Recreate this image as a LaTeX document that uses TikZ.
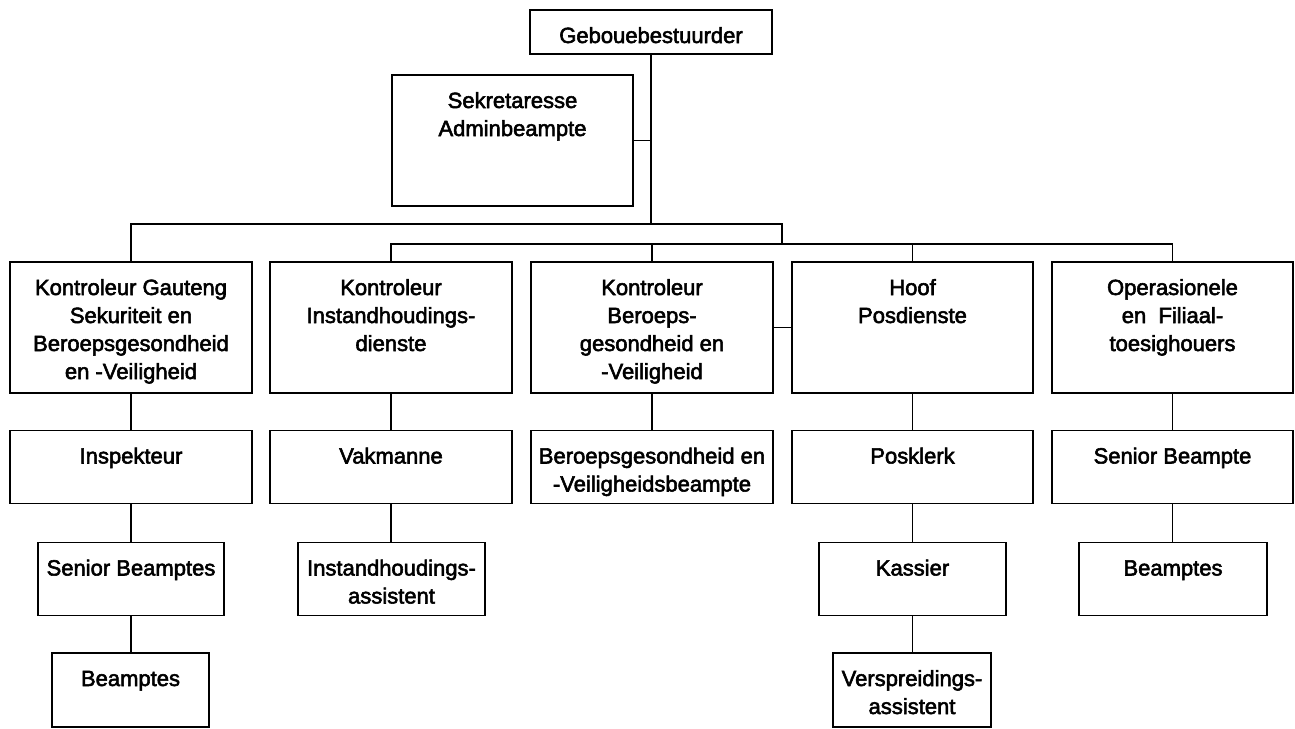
\documentclass[tikz,border=0pt]{standalone}
\usepackage{fontspec}
\setmainfont{Liberation Sans}[FakeBold=2.5]
% box content: fixed size, text set from the top, centred
\newcommand{\orgbox}[3]{\parbox[c][#2pt][t]{#1pt}{\centering\fontsize{22}{28}\selectfont\vspace*{13.4pt}\strut#3}}
\tikzset{
  orgnode/.style={draw, line width=1.8pt, inner sep=0pt, rectangle},
  conn/.style={line width=1.8pt}
}
\begin{document}
\begin{tikzpicture}[x=1pt, y=-1pt]
\useasboundingbox (0,0) rectangle (1295,728);

% top
\node[orgnode] (geb) at (651,32) {\orgbox{242}{44}{Gebouebestuurder}};
\node[orgnode] (sek) at (512.5,140.5) {\orgbox{241}{131}{Sekretaresse\\Adminbeampte}};

% second level
\node[orgnode] (k1) at (131,327.5) {\orgbox{242}{131}{Kontroleur Gauteng\\Sekuriteit en\\Beroepsgesondheid\\en -Veiligheid}};
\node[orgnode] (k2) at (391,327.5) {\orgbox{242}{131}{Kontroleur\\Instandhoudings-\\dienste}};
\node[orgnode] (k3) at (652,327.5) {\orgbox{242}{131}{Kontroleur\\Beroeps-\\gesondheid en\\-Veiligheid}};
\node[orgnode] (k4) at (912.5,327.5) {\orgbox{241}{131}{Hoof\\Posdienste}};
\node[orgnode] (k5) at (1172.5,327.5) {\orgbox{241}{131}{Operasionele\\en~ Filiaal-\\toesighouers}};

% third level
\node[orgnode] (r1) at (131,467) {\orgbox{242}{73}{Inspekteur}};
\node[orgnode] (r2) at (391,467) {\orgbox{242}{73}{Vakmanne}};
\node[orgnode] (r3) at (652,467) {\orgbox{242}{73}{Beroepsgesondheid en\\-Veiligheidsbeampte}};
\node[orgnode] (r4) at (912.5,467) {\orgbox{241}{73}{Posklerk}};
\node[orgnode] (r5) at (1172.5,467) {\orgbox{241}{73}{Senior Beampte}};

% fourth level
\node[orgnode] (s1) at (131,579) {\orgbox{186}{73}{Senior Beamptes}};
\node[orgnode] (s2) at (391.5,579) {\orgbox{187}{73}{Instandhoudings-\\assistent}};
\node[orgnode] (s4) at (912.5,579) {\orgbox{187}{73}{Kassier}};
\node[orgnode] (s5) at (1173,579) {\orgbox{188}{73}{Beamptes}};

% fifth level
\node[orgnode] (t1) at (130.5,690) {\orgbox{157}{74}{Beamptes}};
\node[orgnode] (t4) at (912,690) {\orgbox{158}{74}{Verspreidings-\\assistent}};

% junctions of the two horizontal buses
\coordinate (j1) at (651,224);
\coordinate (j2) at (782,244);

% connectors
\draw[conn] (geb.south) -- (j1);
\draw[conn] (sek.east) -- (sek.east -| geb.south);
\draw[conn] (k1.north) |- (j1) -| (j2);
\draw[conn] (k2.north) |- (j2);
\draw[conn] (k5.north) |- (j2);
\draw[conn] (k3.north) -- (k3.north |- j2);
\draw[conn] (k4.north) -- (k4.north |- j2);
\draw[conn] (k3.east) -- (k4.west);

\draw[conn] (k1.south) -- (k1.south |- r1.north);
\draw[conn] (k2.south) -- (k2.south |- r2.north);
\draw[conn] (k3.south) -- (k3.south |- r3.north);
\draw[conn] (k4.south) -- (k4.south |- r4.north);
\draw[conn] (k5.south) -- (k5.south |- r5.north);

\draw[conn] (r1.south) -- (r1.south |- s1.north);
\draw[conn] (r2.south) -- (r2.south |- s2.north);
\draw[conn] (r4.south) -- (r4.south |- s4.north);
\draw[conn] (r5.south) -- (r5.south |- s5.north);

\draw[conn] (s1.south) -- (s1.south |- t1.north);
\draw[conn] (s4.south) -- (s4.south |- t4.north);
\end{tikzpicture}
\end{document}
